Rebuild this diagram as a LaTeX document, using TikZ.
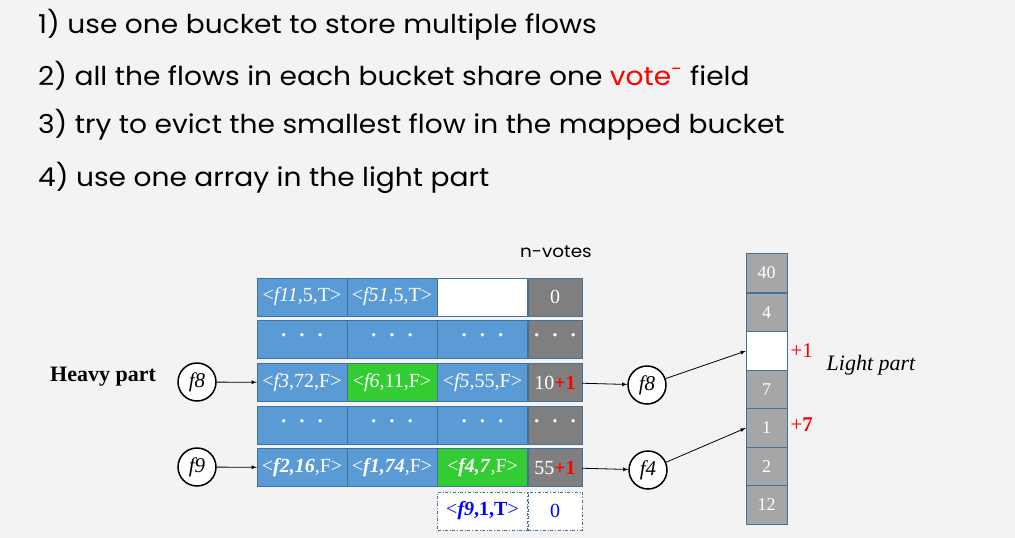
\documentclass[tikz,border=0pt]{standalone}
\usepackage{fontspec}
\setmainfont{Liberation Serif}
\newfontfamily\slidefont[FakeStretch=1.08]{Poppins}
\usetikzlibrary{arrows}
\definecolor{flowblue}{RGB}{91,155,213}
\definecolor{cellline}{RGB}{65,113,156}
\definecolor{flowgreen}{RGB}{51,204,51}
\definecolor{votegray}{RGB}{127,127,127}
\definecolor{lightgray2}{RGB}{166,166,166}
\definecolor{bgcol}{RGB}{243,243,243}
\tikzset{cell/.style={draw=cellline, fill=flowblue, text=white, minimum width=90pt, minimum height=38pt, inner sep=0pt, font=\fontsize{20}{20}\selectfont}}
\tikzset{greencell/.style={cell, fill=flowgreen}}
\tikzset{emptycell/.style={cell, fill=white}}
\tikzset{votecell/.style={cell, fill=votegray, minimum width=54pt}}
\tikzset{newcell/.style={cell, fill=white, text=blue, dash dot}}
\tikzset{newvote/.style={newcell, minimum width=54pt}}
\tikzset{lcell/.style={draw=cellline, fill=lightgray2, text=white, minimum width=41pt, minimum height=38.7pt, inner sep=0pt, font=\fontsize{18}{18}\selectfont}}
\tikzset{flow/.style={circle, draw, line width=1.5pt, fill=white, minimum size=38pt, inner sep=0pt, font=\fontsize{21}{21}\selectfont\itshape}}
\tikzset{line/.style={anchor=base west, inner sep=0pt, font=\fontsize{26}{26}\slidefont}}
\newcommand{\dotsrow}{{\fontsize{28}{20}\selectfont ·\hspace{9pt}·\hspace{9pt}·}}

\begin{document}
\begin{tikzpicture}[x=1pt,y=-1pt]
  \fill[bgcol] (0,0) rectangle (1015,538);
  \useasboundingbox (0,0) rectangle (1015,538);

  \node[line] (t1) at (38,34) {1) use one bucket to store multiple flows};
  \node[line] (t2) at (38,85) {2) all the flows in each bucket share one \textcolor{red}{vote}\textsuperscript{\textcolor{red}{-}} field};
  \node[line] (t3) at (38,133) {3) try to evict the smallest flow in the mapped bucket};
  \node[line] (t4) at (38,186) {4) use one array in the light part};

  \node[font=\fontsize{17}{17}\slidefont] (nvotes) at (556,252) {n-votes};

  % heavy part
  \foreach \lab/\x/\y/\sty/\txt in {
    b11/302/297/cell/{<\textit{f11},5,T>},
    b12/392/297/cell/{<\textit{f51},5,T>},
    b13/482.5/297/emptycell/{},
    b14/555/297/votecell/{0},
    b21/302/339.5/cell/{\dotsrow},
    b22/392/339.5/cell/{\dotsrow},
    b23/482.5/339.5/cell/{\dotsrow},
    b24/555/339.5/votecell/{\dotsrow},
    b31/302/382.5/cell/{<\textit{f3},72,F>},
    b32/392/382.5/greencell/{<\textit{f6},11,F>},
    b33/482.5/382.5/cell/{<\textit{f5},55,F>},
    b34/555/382.5/votecell/{10\textcolor{red}{\textbf{+1}}},
    b41/302/425/cell/{\dotsrow},
    b42/392/425/cell/{\dotsrow},
    b43/482.5/425/cell/{\dotsrow},
    b44/555/425/votecell/{\dotsrow},
    b51/302/467.5/cell/{<\textbf{\textit{f2,16}},F>},
    b52/392/467.5/cell/{<\textbf{\textit{f1,74}},F>},
    b53/482.5/467.5/greencell/{<\textbf{\textit{f4,7}},F>},
    b54/555/467.5/votecell/{55\textcolor{red}{\textbf{+1}}},
    n1/482.5/511/newcell/{<\textbf{\textit{f9},1,T}>},
    n2/555/511/newvote/{0}%
  } {
    \node[\sty] (\lab) at (\x,\y) {\txt};
  }

  \node[font=\fontsize{22}{22}\selectfont\bfseries] (heavy) at (103,377) {Heavy part};
  \node[flow] (inf8) at (197,382) {f8};
  \node[flow] (inf9) at (197,467) {f9};
  \node[flow] (outf8) at (647,385) {f8};
  \node[flow] (outf4) at (648,470) {f4};

  % light part
  \foreach \lab/\y/\txt in {
    l1/273/40,
    l2/312.5/4,
    l3/351/{},
    l4/389.5/7,
    l5/428/1,
    l6/466.5/2,
    l7/505/12%
  } {
    \node[lcell] (\lab) at (766.5,\y) {\txt};
  }
  \node[lcell, fill=white] at (l3) {};
  \node[text=red, font=\fontsize{21}{21}\selectfont, anchor=west] (plus1) at (787,351) {+1};
  \node[text=red, font=\fontsize{21}{21}\selectfont, anchor=west] (plus7) at (787,425) {+\textbf{7}};
  \node[font=\fontsize{22}{22}\selectfont\itshape] (light) at (871,365) {Light part};

  \draw[thick, -latex] (inf8) -- (b31);
  \draw[thick, -latex] (inf9) -- (b51);
  \draw[thick, -latex] (b34) -- (outf8);
  \draw[thick, -latex] (b54) -- (outf4);
  \draw[thick, -latex] (outf8) -- (l3.west);
  \draw[thick, -latex] (outf4) -- (l5.west);
\end{tikzpicture}
\end{document}
